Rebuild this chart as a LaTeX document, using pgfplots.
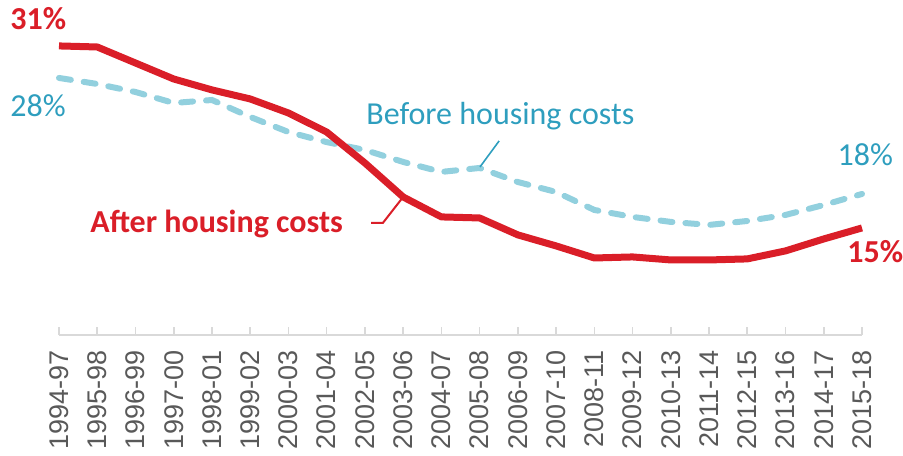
\documentclass[border=0pt]{standalone}
\usepackage{pgfplots}
\pgfplotsset{compat=1.18}
\usepackage{fontspec}
\setmainfont{Carlito}
\newfontfamily\tickfont{Liberation Sans}
\definecolor{ahcred}{RGB}{218,30,40}
\definecolor{bhcline}{RGB}{146,208,222}
\definecolor{bhctext}{RGB}{46,158,190}
\definecolor{labgray}{RGB}{89,89,89}
\definecolor{axisgray}{RGB}{217,217,217}
\begin{document}
\begin{tikzpicture}
\useasboundingbox (-29.5pt,-60pt) rectangle (422pt,167.5pt);
\begin{axis}[
  scale only axis, width=401.5pt, height=167.5pt,
  xmin=0, xmax=21, ymin=5.84, ymax=34.72,
  hide y axis, axis x line*=bottom,
  x axis line style={draw=axisgray, line width=0.8pt, -},
  xtick={0,...,21},
  xticklabels={1994-97,1995-98,1996-99,1997-00,1998-01,1999-02,2000-03,2001-04,2002-05,2003-06,2004-07,2005-08,2006-09,2007-10,2008-11,2009-12,2010-13,2011-14,2012-15,2013-16,2014-17,2015-18},
  xtick align=inside, major tick length=4pt,
  x tick style={draw=axisgray, line width=0.8pt},
  xticklabel style={rotate=90, anchor=east, inner sep=0pt, font=\tickfont\fontsize{13.5}{14}\selectfont, text=labgray},
  xticklabel shift=7.5pt,
  clip=false,
]
\addplot[bhcline, line width=3pt, line cap=round, dash pattern=on 6pt off 6.5pt] coordinates {
(0,28.0) (1,27.48) (2,26.79) (3,25.84) (4,26.10) (5,24.64) (6,23.34) (7,22.47)
(8,21.79) (9,20.76) (10,19.90) (11,20.24) (12,19.03) (13,18.17) (14,16.62)
(15,16.02) (16,15.59) (17,15.33) (18,15.67) (19,16.19) (20,17.05) (21,18.0)};
\addplot[ahcred, line width=3.5pt, line join=round] coordinates {
(0,30.76) (1,30.67) (2,29.29) (3,27.91) (4,26.97) (5,26.19) (6,24.98) (7,23.34)
(8,20.67) (9,17.74) (10,16.02) (11,15.93) (12,14.47) (13,13.52) (14,12.48)
(15,12.57) (16,12.31) (17,12.31) (18,12.40) (19,13.09) (20,14.12) (21,15.07)};
\draw[bhctext, line width=0.8pt] (axis cs:11.01,20.33) -- (axis cs:11.51,22.57);
\draw[ahcred, line width=1pt] (axis cs:9.0,17.74) -- (axis cs:8.47,15.5) -- (axis cs:8.16,15.5);
\node[anchor=base west, inner sep=0pt, text=ahcred, font=\bfseries\fontsize{16}{18}\selectfont] at (axis cs:-1.28,32.14) {31\%};
\node[anchor=base west, inner sep=0pt, text=bhctext, font=\fontsize{16}{18}\selectfont] at (axis cs:-1.28,24.64) {28\%};
\node[anchor=base west, inner sep=0pt, text=bhctext, font=\fontsize{16}{18}\selectfont] at (axis cs:8.03,23.95) {Before housing costs};
\node[anchor=base west, inner sep=0pt, text=ahcred, font=\bfseries\fontsize{16}{18}\selectfont] at (axis cs:0.81,14.64) {After housing costs};
\node[anchor=base west, inner sep=0pt, text=bhctext, font=\fontsize{16}{18}\selectfont] at (axis cs:20.35,20.41) {18\%};
\node[anchor=base west, inner sep=0pt, text=ahcred, font=\bfseries\fontsize{16}{18}\selectfont] at (axis cs:20.61,12.05) {15\%};
\end{axis}
\end{tikzpicture}
\end{document}
